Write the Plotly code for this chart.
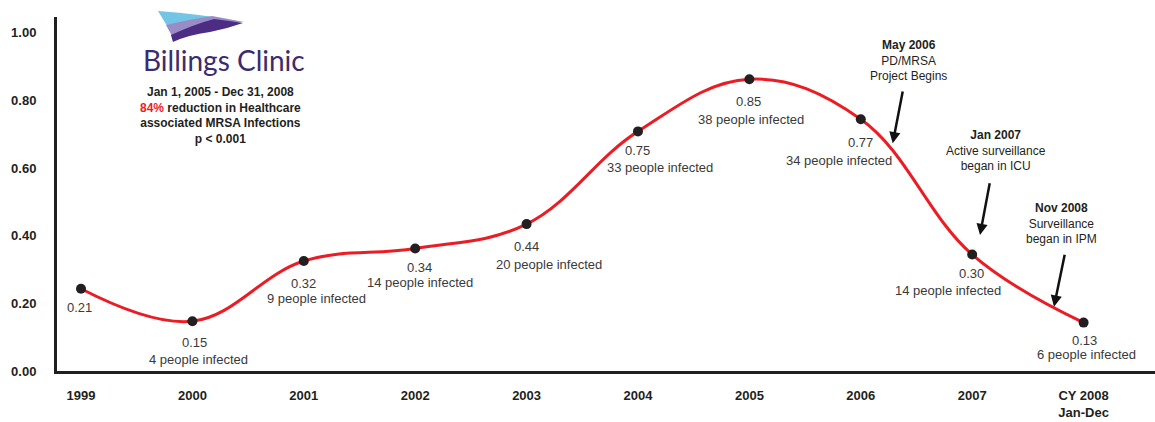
import plotly.graph_objects as go

# ---------------- data ----------------
years = ["1999", "2000", "2001", "2002", "2003", "2004", "2005", "2006", "2007", "2008"]
tick_labels = ["1999", "2000", "2001", "2002", "2003", "2004", "2005", "2006", "2007", "CY 2008<br>Jan-Dec"]
rate = [0.243, 0.147, 0.325, 0.362, 0.434, 0.708, 0.862, 0.744, 0.344, 0.143]
rate_labels = ["0.21", "0.15", "0.32", "0.34", "0.44", "0.75", "0.85", "0.77", "0.30", "0.13"]
infected = [None, 4, 9, 14, 20, 33, 38, 34, 14, 6]
y_ticks = [0.0, 0.2, 0.4, 0.6, 0.8, 1.0]

events = [
    ("May 2006", "PD/MRSA<br>Project Begins"),
    ("Jan 2007", "Active surveillance<br>began in ICU"),
    ("Nov 2008", "Surveillance<br>began in IPM"),
]

# ---------------- layout helpers ----------------
W, H = 1155, 422
ML, MR, MT, MB = 57, 0, 17, 51
PW, PH = W - ML - MR, H - MT - MB


def px(x, y):
    """pixel -> paper coords"""
    return (x - ML) / PW, (H - MB - y) / PH


def path(points):
    s = ""
    for cmd, pts in points:
        s += cmd
        for (x, y) in pts:
            a, b = px(x, y)
            s += f" {a:.4f},{b:.4f}"
        s += " "
    return s + "Z"


# label offsets (pixels from point): (dx, dy down)
val_off = [(-2, 19), (2, 21), (0, 22), (4, 19), (0, 22), (0, 19), (-1, 22), (0, 23), (-1, 19), (1, 18)]
ppl_off = [None, (6, 38), (13, 37), (5, 34), (22, 40), (22, 36), (2, 40), (-22, 41), (-24, 36), (3, 32)]

FONT = "Liberation Sans, Arial, sans-serif"
DARK = "#231f20"
GRAY = "#3a3a3a"
RED = "#ec1c24"

xs = list(range(len(years)))

fig = go.Figure()
fig.add_trace(go.Scatter(
    x=xs, y=rate, mode="lines+markers",
    line=dict(color=RED, width=3, shape="spline", smoothing=1.1),
    marker=dict(color=DARK, size=10),
    hoverinfo="skip", showlegend=False,
))

ann = []
for i in xs:
    dx, dy = val_off[i]
    ann.append(dict(x=i, y=rate[i], xref="x", yref="y", text=rate_labels[i], showarrow=False,
                    xanchor="center", yanchor="middle",
                    xshift=dx, yshift=-dy, font=dict(family=FONT, size=13, color=GRAY)))
    if infected[i] is not None:
        dx, dy = ppl_off[i]
        ann.append(dict(x=i, y=rate[i], xref="x", yref="y", text=f"{infected[i]} people infected",
                        showarrow=False, xshift=dx, yshift=-dy, xanchor="center", yanchor="middle",
                        font=dict(family=FONT, size=13, color=GRAY)))

# event notes
ev_pos = [(908, 61), (995.7, 150.3), (1061, 223.4)]
for (title, body), (x, y) in zip(events, ev_pos):
    a, b = px(x, y)
    ann.append(dict(x=a, y=b, xref="paper", yref="paper", showarrow=False,
                    xanchor="center", yanchor="middle",
                    text=f"<b>{title}</b><br>{body}", align="center",
                    font=dict(family=FONT, size=12, color=DARK)))

# arrows (head, tail offset)
arrows = [((892.7, 143.3), (10.3, -53.3)), ((980, 235), (10, -53.3)), ((1054, 306.7), (11, -53.4))]
for (hx, hy), (ax, ay) in arrows:
    a, b = px(hx, hy)
    ann.append(dict(x=a, y=b, xref="paper", yref="paper", text="", showarrow=True,
                    ax=ax, ay=ay, arrowhead=2, arrowsize=0.9, arrowwidth=2.5, arrowcolor="#111111"))

# info block
a, b = px(220, 115)
ann.append(dict(x=a, y=b, xref="paper", yref="paper", showarrow=False, align="center",
                xanchor="center", yanchor="middle",
                text="<b>Jan 1, 2005 - Dec 31, 2008<br><span style='color:#ee1c25'>84%</span> reduction in Healthcare"
                     "<br>associated MRSA Infections<br>p &lt; 0.001</b>",
                font=dict(family=FONT, size=12, color=DARK)))

# logo text
a, b = px(224, 60)
ann.append(dict(x=a, y=b, xref="paper", yref="paper", showarrow=False,
                xanchor="center", yanchor="middle",
                text="Billings Clinic", font=dict(family="Lato, Open Sans, sans-serif", size=28, color="#3a2c6e")))

shapes = [
    # light blue flag
    dict(type="path", xref="paper", yref="paper", line=dict(width=0), fillcolor="#72c5e5",
         path=path([("M", [(158, 11)]), ("Q", [(200, 14), (245, 22)]), ("L", [(214, 17)]),
                    ("Q", [(192, 22), (172, 34)])])),
    # lavender band
    dict(type="path", xref="paper", yref="paper", line=dict(width=0), fillcolor="#9a8cc6",
         path=path([("M", [(166, 25)]), ("Q", [(192, 19), (212, 16)]), ("Q", [(228, 19), (244, 22)]),
                    ("Q", [(215, 24), (195, 29)]), ("Q", [(180, 32), (172, 36)])])),
    # dark purple wave
    dict(type="path", xref="paper", yref="paper", line=dict(width=0), fillcolor="#4d2c84",
         path=path([("M", [(171, 35)]), ("Q", [(195, 24), (214, 19)]), ("Q", [(230, 21), (243, 23)]),
                    ("Q", [(226, 29), (210, 32)]), ("Q", [(188, 35), (173, 42)])])),
]

fig.update_layout(
    width=W, height=H,
    margin=dict(l=ML, r=MR, t=MT, b=MB),
    paper_bgcolor="white", plot_bgcolor="white",
    annotations=ann, shapes=shapes,
    xaxis=dict(range=[-0.2154, 9.641],
               tickvals=xs, ticktext=tick_labels, showgrid=False, zeroline=False,
               showline=True, linecolor=DARK, linewidth=3, ticks="outside", ticklen=0,
               ticklabelstandoff=10,
               tickfont=dict(family=FONT, size=13, color=DARK, weight="bold")),
    yaxis=dict(range=[0, 1.046], tickvals=y_ticks, tickformat=".2f", showgrid=False, zeroline=False,
               showline=True, linecolor=DARK, linewidth=3, ticks="outside", ticklen=0,
               ticklabelstandoff=15,
               tickfont=dict(family=FONT, size=13, color=DARK, weight="bold")),
)

fig.write_html("out.html")
